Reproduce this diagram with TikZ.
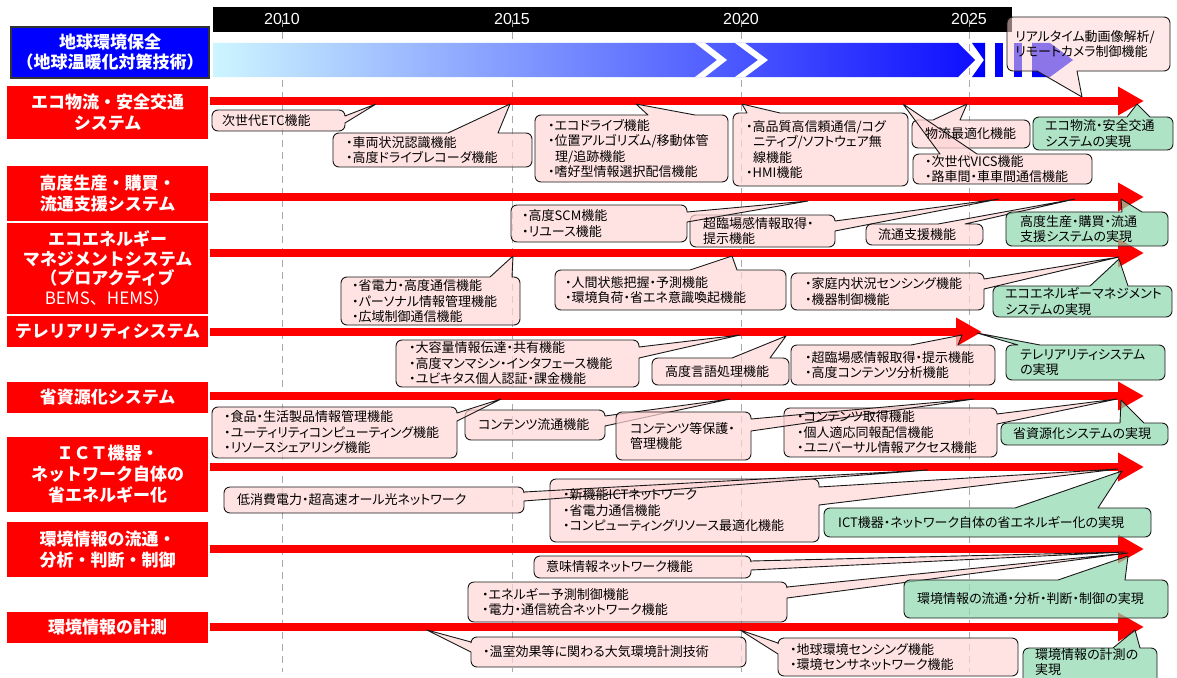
\documentclass[tikz,border=0pt]{standalone}
\usepackage{fontspec}
\setmainfont{Noto Sans CJK JP}[RawFeature=+palt]
\newfontfamily\lbl{Noto Sans CJK JP}
\newfontfamily\arial{Liberation Sans}
\usetikzlibrary{arrows.meta}
\definecolor{cpink}{RGB}{255,214,214}
\definecolor{cgreen}{RGB}{142,216,174}
\definecolor{gl}{RGB}{205,245,255}
\definecolor{gm}{RGB}{150,195,255}
\definecolor{gr}{RGB}{15,15,255}
\definecolor{pblue}{RGB}{0,0,255}
\definecolor{cline}{RGB}{25,25,25}
\definecolor{dashgray}{RGB}{170,170,170}
\def\rr{6}
\def\rk{2.7}
\newcommand\setcb[4]{\def\xa{#1}\def\ya{#2}\def\xb{#3}\def\yb{#4}}
% tail on top edge
\newcommand\calT[8]{\setcb{#2}{#3}{#4}{#5}%
\filldraw[#1] ({\xa+\rr},\ya) -- (#6,\ya) -- (#8) -- (#7,\ya) -- ({\xb-\rr},\ya) .. controls ({\xb-\rk},\ya) and (\xb,{\ya+\rk}) .. (\xb,{\ya+\rr}) -- (\xb,{\yb-\rr}) .. controls (\xb,{\yb-\rk}) and ({\xb-\rk},\yb) .. ({\xb-\rr},\yb) -- ({\xa+\rr},\yb) .. controls ({\xa+\rk},\yb) and (\xa,{\yb-\rk}) .. (\xa,{\yb-\rr}) -- (\xa,{\ya+\rr}) .. controls (\xa,{\ya+\rk}) and ({\xa+\rk},\ya) .. ({\xa+\rr},\ya) -- cycle;}
% tail on right edge
\newcommand\calR[8]{\setcb{#2}{#3}{#4}{#5}%
\filldraw[#1] ({\xa+\rr},\ya) -- ({\xb-\rr},\ya) .. controls ({\xb-\rk},\ya) and (\xb,{\ya+\rk}) .. (\xb,{\ya+\rr}) -- (\xb,#6) -- (#8) -- (\xb,#7) -- (\xb,{\yb-\rr}) .. controls (\xb,{\yb-\rk}) and ({\xb-\rk},\yb) .. ({\xb-\rr},\yb) -- ({\xa+\rr},\yb) .. controls ({\xa+\rk},\yb) and (\xa,{\yb-\rk}) .. (\xa,{\yb-\rr}) -- (\xa,{\ya+\rr}) .. controls (\xa,{\ya+\rk}) and ({\xa+\rk},\ya) .. ({\xa+\rr},\ya) -- cycle;}
% tail on bottom edge
\newcommand\calB[8]{\setcb{#2}{#3}{#4}{#5}%
\filldraw[#1] ({\xa+\rr},\ya) -- ({\xb-\rr},\ya) .. controls ({\xb-\rk},\ya) and (\xb,{\ya+\rk}) .. (\xb,{\ya+\rr}) -- (\xb,{\yb-\rr}) .. controls (\xb,{\yb-\rk}) and ({\xb-\rk},\yb) .. ({\xb-\rr},\yb) -- (#7,\yb) -- (#8) -- (#6,\yb) -- ({\xa+\rr},\yb) .. controls ({\xa+\rk},\yb) and (\xa,{\yb-\rk}) .. (\xa,{\yb-\rr}) -- (\xa,{\ya+\rr}) .. controls (\xa,{\ya+\rk}) and ({\xa+\rk},\ya) .. ({\xa+\rr},\ya) -- cycle;}
% tail on left edge
\newcommand\calL[8]{\setcb{#2}{#3}{#4}{#5}%
\filldraw[#1] ({\xa+\rr},\ya) -- ({\xb-\rr},\ya) .. controls ({\xb-\rk},\ya) and (\xb,{\ya+\rk}) .. (\xb,{\ya+\rr}) -- (\xb,{\yb-\rr}) .. controls (\xb,{\yb-\rk}) and ({\xb-\rk},\yb) .. ({\xb-\rr},\yb) -- ({\xa+\rr},\yb) .. controls ({\xa+\rk},\yb) and (\xa,{\yb-\rk}) .. (\xa,{\yb-\rr}) -- (\xa,#7) -- (#8) -- (\xa,#6) -- (\xa,{\ya+\rr}) .. controls (\xa,{\ya+\rk}) and ({\xa+\rk},\ya) .. ({\xa+\rr},\ya) -- cycle;}
\begin{document}
\begin{tikzpicture}[x=1pt,y=-1pt,
 pk/.style={fill=cpink, fill opacity=0.7, draw=cline, line width=0.9pt, line join=round},
 pko/.style={pk, fill opacity=0.55},
 gn/.style={fill=cgreen, fill opacity=0.7, draw=cline, line width=0.9pt, line join=round},
 ct/.style={anchor=west, align=left, inner sep=0pt, font=\fontsize{13}{15.5}\selectfont, text=black},
 redlabel/.style={fill=red, text=white, font=\lbl\bfseries\fontsize{17}{21}\selectfont, align=center, inner sep=0pt, minimum width=201pt},
 redarrow/.style={draw=red, line width=8pt, -{Triangle[length=26pt,width=27pt]}},
 gridl/.style={draw=dashgray, line width=0.9pt, dash pattern=on 7pt off 5pt},
 year/.style={text=white, font=\arial\fontsize{16}{16}\selectfont, inner sep=0pt}]
\useasboundingbox (0,0) rectangle (1177,677);
\clip (0,0) rectangle (1177,677);
\fill[white] (0,0) rectangle (1177,677);

% timeline bar
\node[fill=black, minimum width=799pt, minimum height=25pt, inner sep=0pt, anchor=north west] (tbar) at (213,7) {};
\foreach \gx in {282,512,741,969} \draw[gridl] (\gx,20) -- (\gx,672);
\node[year] (y2010) at (282,19) {2010};
\node[year] (y2015) at (512,19) {2015};
\node[year] (y2020) at (741,19) {2020};
\node[year] (y2025) at (969,19) {2025};

% global arrow band
\node[fill=pblue, draw=black!80, line width=1.5pt, text=white, font=\lbl\bfseries\fontsize{17}{20}\selectfont, align=center, minimum width=198pt, minimum height=51pt, inner sep=0pt] (B0) at (110,52.5) {地球環境保全\\（地球温暖化対策技術）};
\shade[left color=gl, middle color=gm, right color=gr] (213,43) -- (958,43) -- (975,60) -- (958,77) -- (213,77) -- cycle;
\fill[white] (695,43) -- (705,43) -- (727,60) -- (705,77) -- (695,77) -- (717,60) -- cycle;
\fill[white] (735,43) -- (745,43) -- (768,60) -- (745,77) -- (735,77) -- (758,60) -- cycle;
\fill[pblue] (972,43) -- (985,43) -- (985,77) -- (972,77) -- (984,60) -- cycle;
\fill[pblue] (995,43) rectangle (1003,77);
\fill[pblue] (1014,43) rectangle (1022,77);
\fill[pblue] (1032,43) -- (1050,43) -- (1073,60) -- (1050,77) -- (1032,77) -- cycle;

% row labels
\node[redlabel, minimum height=53pt] (L1) at (107.5,112.5) {エコ物流・安全交通\\システム};
\node[redlabel, minimum height=55pt] (L2) at (107.5,193.5) {高度生産・購買・\\流通支援システム};
\node[redlabel, minimum height=91pt, font=\lbl\bfseries\fontsize{17}{19.5}\selectfont] (L3) at (107.5,268.5) {エコエネルギー\\マネジメントシステム\\（プロアクティブ\\{\mdseries BEMS、HEMS）}};
\node[redlabel, minimum height=31pt] (L4) at (107.5,331) {テレリアリティシステム};
\node[redlabel, minimum height=31pt] (L5) at (107.5,397.5) {省資源化システム};
\node[redlabel, minimum height=75pt] (L6) at (107.5,474.5) {ＩＣＴ機器・\\ネットワーク自体の\\省エネルギー化};
\node[redlabel, minimum height=55pt] (L7) at (107.5,549.5) {環境情報の流通・\\分析・判断・制御};
\node[redlabel, minimum height=31pt] (L8) at (107.5,627.5) {環境情報の計測};

% red arrows
\coordinate (a1s) at (210,101); \coordinate (a1e) at (1144,101);
\coordinate (a2s) at (210,197); \coordinate (a2e) at (1144,197);
\coordinate (a3s) at (210,253); \coordinate (a3e) at (1144,253);
\coordinate (a4s) at (210,332); \coordinate (a4e) at (982,332);
\coordinate (a5s) at (210,396); \coordinate (a5e) at (1144,396);
\coordinate (a6s) at (210,467); \coordinate (a6e) at (1144,467);
\coordinate (a7s) at (210,549); \coordinate (a7e) at (1144,549);
\coordinate (a8s) at (210,627); \coordinate (a8e) at (1144,627);
\foreach \r in {1,...,8} \draw[redarrow] (a\r s) -- (a\r e);

% tip coordinates
\coordinate (t1a) at (376,104); \coordinate (t1b) at (510,104);
\coordinate (t1c) at (636,104); \coordinate (t1d) at (742,104);
\coordinate (t1e) at (967,104); \coordinate (t1f) at (903,104);
\coordinate (t1g) at (1137,104); \coordinate (t1h) at (1082,97);
\coordinate (t2a) at (808,201); \coordinate (t2b) at (999,199);
\coordinate (t2c) at (1075,199); \coordinate (t2d) at (1121,199);
\coordinate (t3a) at (513,256); \coordinate (t3b) at (732,256);
\coordinate (t3c) at (1119,257); \coordinate (t3d) at (1119,259);
\coordinate (t4a) at (740,335); \coordinate (t4b) at (786,336);
\coordinate (t4c) at (962,335); \coordinate (t4d) at (977,333);
\coordinate (t5a) at (501,399); \coordinate (t5b) at (730,399);
\coordinate (t5c) at (974,399); \coordinate (t5d) at (1117,399);
\coordinate (t5e) at (1121,400);
\coordinate (t6a) at (928,470); \coordinate (t6b) at (1118,469);
\coordinate (t6c) at (1122,471);
\coordinate (t7a) at (1125,552); \coordinate (t7b) at (1128,553);
\coordinate (t7c) at (1128,556);
\coordinate (t8a) at (427,630); \coordinate (t8b) at (740,630);
\coordinate (t8c) at (1135,630);

% callout shapes
\calR{pk}{212}{110}{345}{131}{116}{123}{t1a}
\calT{pk}{333}{133}{532}{167}{448}{498}{t1b}
\calT{pk}{535}{115}{728}{182}{648}{695}{t1c}
\calT{pk}{733}{113}{908}{186}{747}{780}{t1d}
\calT{pk}{912}{120}{1030}{148}{933}{960}{t1e}
\calT{pk}{913}{154}{1092}{184}{940}{977}{t1f}
\calT{gn}{1033}{117}{1173}{150}{1127}{1150}{t1g}
\calB{pko}{1007}{17}{1170}{71}{1037}{1077}{t1h}
\calR{pk}{690}{215}{835}{247}{221}{231}{t2b}
\calR{pk}{511}{205}{687}{242}{212}{222}{t2a}
\calT{pk}{866}{224}{983}{245}{938}{965}{t2c}
\calT{gn}{1006}{212}{1168}{246}{1122}{1142}{t2d}
\calT{pk}{341}{277}{520}{325}{490}{512}{t3a}
\calT{pk}{555}{270}{786}{310}{690}{737}{t3b}
\calR{pk}{791}{273}{984}{310}{279}{289}{t3c}
\calT{gn}{993}{286}{1172}{317}{1090}{1128}{t3d}
\calR{pk}{396}{340}{639}{387}{347}{358}{t4a}
\calT{pk}{652}{358}{789}{385}{732}{770}{t4b}
\calT{pk}{791}{345}{995}{385}{911}{958}{t4c}
\calT{gn}{1006}{345}{1165}{380}{1018}{1040}{t4d}
\calR{pk}{465}{410}{605}{440}{416}{426}{t5b}
\calR{pk}{212}{407}{457}{458}{413}{421}{t5a}
\calR{pk}{784}{408}{997}{457}{414}{424}{t5d}
\calR{pk}{616}{412}{751}{460}{419}{431}{t5c}
\calT{gn}{1001}{423}{1168}{445}{1120}{1144}{t5e}
\calR{pk}{550}{479}{819}{542}{487}{505}{t6b}
\calR{pk}{224}{487}{524}{513}{492}{501}{t6a}
\calT{gn}{824}{508}{1151}{537}{1015}{1098}{t6c}
\calR{pk}{534}{556}{751}{578}{561}{570}{t7a}
\calR{pk}{468}{582}{787}{622}{587}{598}{t7b}
\calT{gn}{904}{580}{1168}{618}{1058}{1125}{t7c}
\calL{pk}{471}{637}{746}{667}{642}{652}{t8a}
\calL{pk}{778}{638}{1018}{676}{643}{654}{t8b}
\calT{gn}{1023}{648}{1157}{690}{1113}{1140}{t8c}

% callout texts
\node[ct] (c1a) at (222,120.5) {次世代ETC機能};
\node[ct] (c1b) at (346,150) {・車両状況認識機能\\・高度ドライブレコーダ機能};
\node[ct] (c1c) at (548,148.5) {・エコドライブ機能\\・位置アルゴリズム/移動体管\\\hspace*{7pt}理/追跡機能\\・嗜好型情報選択配信機能};
\node[ct] (c1d) at (746,149.5) {・高品質高信頼通信/コグ\\\hspace*{7pt}ニティブ/ソフトウェア無\\\hspace*{7pt}線機能\\・HMI機能};
\node[ct] (c1e) at (925,134) {物流最適化機能};
\node[ct] (c1f) at (925,169) {・次世代VICS機能\\・路車間・車車間通信機能};
\node[ct] (c1g) at (1045,133.5) {エコ物流・安全交通\\システムの実現};
\node[ct] (c1h) at (1015,44) {リアルタイム動画像解析/\\リモートカメラ制御機能};
\node[ct] (c2b) at (703,231) {超臨場感情報取得・\\提示機能};
\node[ct] (c2a) at (522,223.5) {・高度SCM機能\\・リユース機能};
\node[ct] (c2c) at (878,234.5) {流通支援機能};
\node[ct] (c2d) at (1020,229) {高度生産・購買・流通\\支援システムの実現};
\node[ct] (c3a) at (352,301.5) {・省電力・高度通信機能\\・パーソナル情報管理機能\\・広域制御通信機能};
\node[ct] (c3b) at (565,290) {・人間状態把握・予測機能\\・環境負荷・省エネ意識喚起機能};
\node[ct] (c3c) at (805,291.5) {・家庭内状況センシング機能\\・機器制御機能};
\node[ct] (c3d) at (1005,301.5) {エコエネルギーマネジメント\\システムの実現};
\node[ct] (c4a) at (409,363.5) {・大容量情報伝達・共有機能\\・高度マンマシン・インタフェース機能\\・ユビキタス個人認証・課金機能};
\node[ct] (c4b) at (665,371.5) {高度言語処理機能};
\node[ct] (c4c) at (805,365) {・超臨場感情報取得・提示機能\\・高度コンテンツ分析機能};
\node[ct] (c4d) at (1020,362.5) {テレリアリティシステム\\の実現};
\node[ct] (c5b) at (478,425) {コンテンツ流通機能};
\node[ct] (c5a) at (224,432.5) {・食品・生活製品情報管理機能\\・ユーティリティコンピューティング機能\\・リソースシェアリング機能};
\node[ct] (c5d) at (797,432.5) {・コンテンツ取得機能\\・個人適応同報配信機能\\・ユニバーサル情報アクセス機能};
\node[ct] (c5c) at (630,436) {コンテンツ等保護・\\管理機能};
\node[ct] (c5e) at (1013,434) {省資源化システムの実現};
\node[ct] (c6b) at (563,510.5) {・新機能ICTネットワーク\\・省電力通信機能\\・コンピューティングリソース最適化機能};
\node[ct] (c6a) at (237,500) {低消費電力・超高速オール光ネットワーク};
\node[ct] (c6c) at (838,522.5) {ICT機器・ネットワーク自体の省エネルギー化の実現};
\node[ct] (c7a) at (546,567) {意味情報ネットワーク機能};
\node[ct] (c7b) at (482,602) {・エネルギー予測制御機能\\・電力・通信統合ネットワーク機能};
\node[ct] (c7c) at (917,599) {環境情報の流通・分析・判断・制御の実現};
\node[ct] (c8a) at (483,652) {・温室効果等に関わる大気環境計測技術};
\node[ct] (c8b) at (790,657) {・地球環境センシング機能\\・環境センサネットワーク機能};
\node[ct] (c8c) at (1035,662) {環境情報の計測の\\実現};
\end{tikzpicture}
\end{document}
